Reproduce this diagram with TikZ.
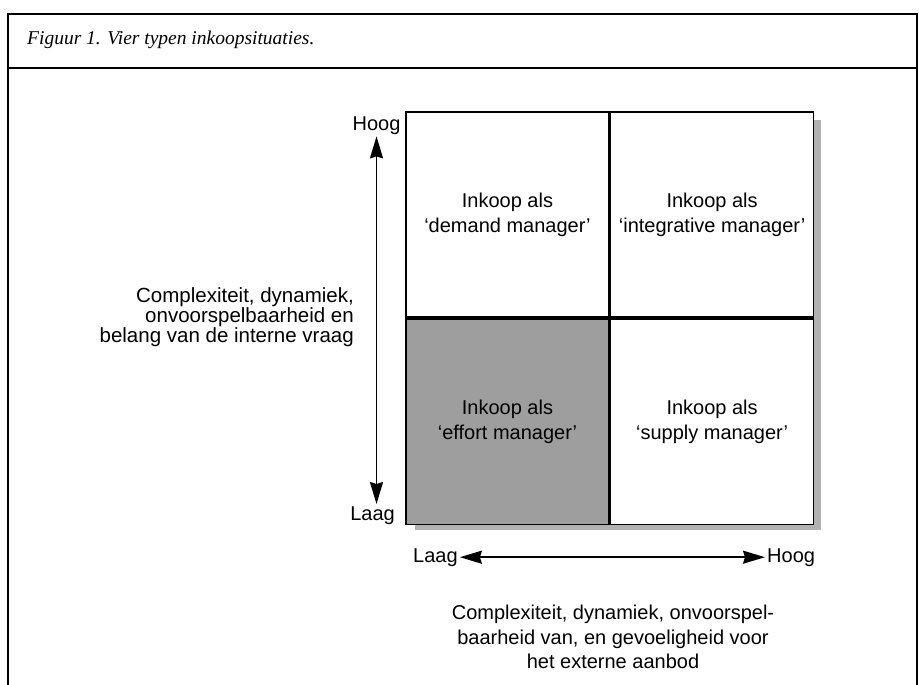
\documentclass[tikz,border=0pt]{standalone}
\usepackage{fontspec}
\setmainfont{Liberation Sans}
\newfontfamily\titlefont{Liberation Serif}
\usetikzlibrary{arrows.meta,positioning,calc}
\definecolor{effortgray}{gray}{0.62}
\definecolor{shadowgray}{gray}{0.70}

\begin{document}
\begin{tikzpicture}[x=1pt, y=-1pt,
  cell/.style={draw, line width=1.6pt, fill=white, minimum width=203pt,
    minimum height=205.5pt, inner sep=0pt, align=center,
    font=\fontsize{20}{25}\selectfont},
  axislabel/.style={inner sep=2pt, font=\fontsize{20}{22}\selectfont},
  axistext/.style={inner sep=0pt, align=right, font=\fontsize{20.5}{20}\selectfont},
  frame/.style={line width=1.4pt},
  arr/.style={{Stealth[length=22pt,width=13pt,inset=2pt]}-{Stealth[length=22pt,width=13pt,inset=2pt]},
    line width=1.8pt},
]
\useasboundingbox (0,0) rectangle (919,685);

% FRAME and TITLE
\draw[frame] (8,685) -- (8,14) -- (917,14) -- (917,685);
\draw[frame] (8,68) -- (917,68);
\node[anchor=base west, inner sep=0pt, font=\titlefont\itshape\fontsize{19.5}{22}\selectfont]
  (title) at (27,45) {Figuur 1. Vier typen inkoopsituaties.};

% SHADOW behind the matrix
\fill[shadowgray] (415,120) rectangle (821,530);

% MATRIX (four cells)
\node[cell] (demand) at (507.5,214.5) {Inkoop als\\`demand manager'};
\node[cell, right=0pt of demand] (integrative) {Inkoop als\\`integrative manager'};
\node[cell, below=0pt of demand, fill=effortgray] (effort) {Inkoop als\\`effort manager'};
\node[cell, below=0pt of integrative] (supply) {Inkoop als\\`supply manager'};

% VERTICAL AXIS
\node[axislabel, anchor=base] (hoogV) at (376.5,130) {Hoog};
\node[axislabel, anchor=base east] (laagV) at (397,520) {Laag};
\draw[arr] (hoogV.south) -- (hoogV.south |- laagV.north);
\node[axistext, anchor=east] (internal) at (354,317)
  {Complexiteit, dynamiek,\\onvoorspelbaarheid en\\belang van de interne vraag};

% HORIZONTAL AXIS
\node[axislabel, anchor=base west] (laagH) at (411,562) {Laag};
\node[axislabel, anchor=base west] (hoogH) at (765,562) {Hoog};
\draw[arr] (laagH) -- (hoogH);
\node[align=center, inner sep=0pt, font=\fontsize{20}{24.5}\selectfont] (external) at (613,637)
  {Complexiteit, dynamiek, onvoorspel-\\baarheid van, en gevoeligheid voor\\het externe aanbod};
\end{tikzpicture}
\end{document}
